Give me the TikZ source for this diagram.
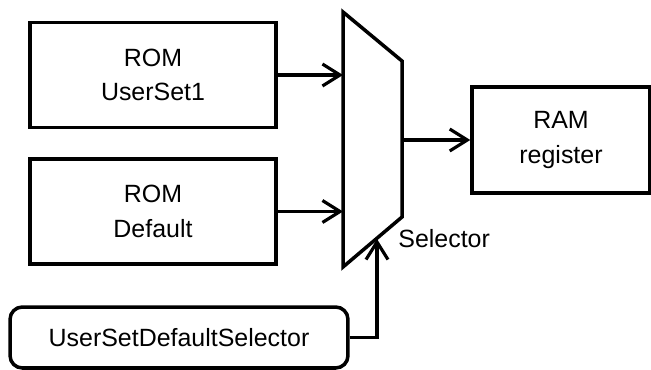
\documentclass[tikz,border=0pt]{standalone}
\usepackage{fontspec}
\setmainfont{Liberation Sans}
\usetikzlibrary{arrows.meta, positioning}

\begin{document}
\begin{tikzpicture}[
    x=0.02cm, y=-0.02cm,
    node distance=0.56cm,
    font=\fontsize{14.2}{19.5}\selectfont,
    rom/.style={draw, line width=2pt, minimum width=4.92cm, minimum height=2.1cm, align=center, inner sep=0pt},
    ram/.style={rom, minimum width=3.56cm, minimum height=2.12cm},
    sel/.style={draw, line width=2pt, rounded corners=7pt, minimum width=6.76cm, minimum height=1.22cm, inner sep=0pt},
    wire/.style={line width=1.8pt},
    >={Straight Barb[length=10pt, width=12.5pt, line width=1.8pt]}]
  \useasboundingbox (0,0) rectangle (651,369);
  % sources
  \node[rom] (user1) at (153,75) {ROM\\UserSet1};
  \node[rom, below=of user1] (dflt) {ROM\\Default};
  \node[sel] (dsel) at (179,337.5) {UserSetDefaultSelector};
  % selector
  \coordinate (m1) at (343,12);
  \coordinate (m2) at (402,61);
  \coordinate (m3) at (402,217);
  \coordinate (m4) at (343,267);
  \coordinate (ctl) at (377,239);
  \draw[line width=2pt, line join=miter] (m1) -- (m2) -- (m3) -- (m4) -- cycle;
  \node[anchor=west, inner sep=0pt] (sellab) at (398,239) {Selector};
  % target
  \node[ram] (ram) at (561,140) {RAM\\register};
  % wires
  \draw[wire, ->] (user1.east) -- (user1.east -| m1);
  \draw[wire, ->] (dflt.east) -- (dflt.east -| m1);
  \draw[wire, ->] (ram.west -| m2) -- (ram.west);
  \draw[wire, ->, line width=2.2pt] (dsel.east) -| (ctl);
\end{tikzpicture}
\end{document}
